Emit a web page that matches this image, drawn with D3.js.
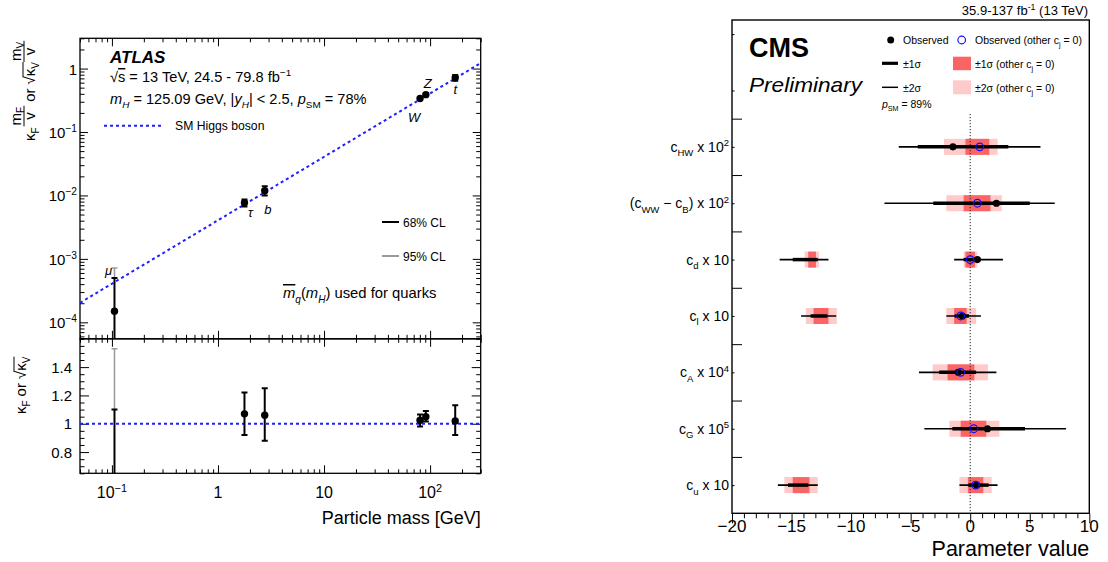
<!DOCTYPE html>
<html>
<head>
<meta charset="utf-8">
<script src="https://cdn.jsdelivr.net/npm/d3@7"></script>
<style>
  body { margin: 0; background: #fff; }
  text { font-family: 'Liberation Sans', Arial, Helvetica, sans-serif; fill: #000; }
</style>
</head>
<body>
<div id="chart"></div>
<script>
// ---------- left panel data (ATLAS) ----------
var particles   = ["μ", "τ", "b", "W", "Z", "t"];
var masses      = [0.1057, 1.777, 2.76, 80.4, 91.19, 172.5];
// reduced coupling (top panel)
var coupVal     = [1.5e-4, 7.7e-3, 1.19e-2, 0.337, 0.388, 0.715];
var coupLo68    = [1e-6, 6.7e-3, 1.0e-2, 0.325, 0.372, 0.645];
var coupHi68    = [5.0e-4, 8.6e-3, 1.4e-2, 0.350, 0.405, 0.790];
var coupHi95    = [7.2e-4, null, null, null, null, null];
// kappa (bottom panel)
var kapVal      = [0.35, 1.07, 1.06, 1.025, 1.05, 1.02];
var kapLo68     = [0.0, 0.92, 0.88, 0.98, 1.015, 0.92];
var kapHi68     = [1.10, 1.22, 1.25, 1.065, 1.09, 1.13];
var kapHi95     = [1.53, null, null, null, null, null];
var smMass      = [0.05, 300];
var smCoupling  = [2.03e-4, 1.22];
var smKappa     = [1, 1];
var massTicks   = [0.1, 1, 10, 100];
var massLabels  = [["10", "−1"], ["1", ""], ["10", ""], ["10", "2"]];
var coupTicks   = [1, 0.1, 0.01, 0.001, 0.0001];
var coupLabels  = [["1", ""], ["10", "−1"], ["10", "−2"], ["10", "−3"], ["10", "−4"]];
var kapTicks    = [0.8, 1.0, 1.2, 1.4];
var kapLabels   = ["0.8", "1", "1.2", "1.4"];

// ---------- right panel data (CMS) ----------
var paramLabels = [
  [["c", ""], ["HW", "sub"], [" x 10", ""], ["2", "sup"]],
  [["(c", ""], ["WW", "sub"], [" − c", ""], ["B", "sub"], [") x 10", ""], ["2", "sup"]],
  [["c", ""], ["d", "sub"], [" x 10", ""]],
  [["c", ""], ["l", "sub"], [" x 10", ""]],
  [["c", ""], ["A", "sub"], [" x 10", ""], ["4", "sup"]],
  [["c", ""], ["G", "sub"], [" x 10", ""], ["5", "sup"]],
  [["c", ""], ["u", "sub"], [" x 10", ""]]
];
var obsCentral   = [-1.45, 2.2, 0.6, -0.65, -1.0, 1.45, 0.55];
var obs1sigma    = [[[-4.4, 3.2]], [[-3.1, 5.0]], [[-14.9, -12.8], [-0.55, 0.85]], [[-13.4, -12.0], [-1.3, -0.1]],
                    [[-2.6, 0.5]], [[-1.5, 4.6]], [[-15.3, -13.6], [-0.15, 1.55]]];
var obs2sigma    = [[[-6.0, 5.9]], [[-7.2, 7.1]], [[-16.0, -11.9], [-1.35, 2.75]], [[-14.2, -11.25], [-2.0, 0.9]],
                    [[-4.3, 2.2]], [[-3.85, 8.05]], [[-16.15, -12.8], [-0.9, 2.3]]];
var otherCentral = [0.8, 0.6, 0.0, -0.8, -0.8, 0.3, 0.45];
var other1sigma  = [[[-0.4, 1.6]], [[-0.55, 1.7]], [[-13.6, -12.95], [-0.4, 0.4]], [[-13.15, -11.9], [-1.35, -0.3]],
                    [[-1.9, 0.35]], [[-0.8, 1.35]], [[-14.9, -13.5], [-0.2, 1.1]]];
var other2sigma  = [[[-2.2, 2.3]], [[-2.0, 2.65]], [[-13.9, -12.7], [-0.55, 0.6]], [[-13.8, -11.2], [-2.0, 0.5]],
                    [[-3.15, 1.5]], [[-1.75, 2.45]], [[-15.6, -12.8], [-0.9, 1.8]]];
var paramTicks   = [-20, -15, -10, -5, 0, 5, 10];

var svg = d3.select("#chart").append("svg")
    .attr("width", 1108)
    .attr("height", 562);
svg.append("rect").attr("width", 1108).attr("height", 562).attr("fill", "#fff");

// text with sub/superscripts, italic, overline
function rich(g, x, y, segs, size, anchor) {
    var t = g.append("text")
        .attr("x", x).attr("y", y)
        .attr("font-size", size)
        .attr("text-anchor", anchor || "start");
    var shift = 0;
    segs.forEach(function(s) {
        var style = s[1] || "";
        var target = 0;
        if (style.indexOf("sub") >= 0) target = size * 0.32;
        if (style.indexOf("sup") >= 0) target = -size * 0.4;
        var ts = t.append("tspan").attr("dy", target - shift).text(s[0]);
        if (target !== 0) ts.attr("font-size", size * 0.68);
        if (style.indexOf("it") >= 0) ts.attr("font-style", "italic");
        if (style.indexOf("ovl") >= 0) ts.style("text-decoration", "overline");
        shift = target;
    });
    return t;
}

function put(g, str, x, y, size, italic) {
    var t = g.append("text").attr("x", x).attr("y", y).attr("font-size", size).text(str);
    if (italic) t.attr("font-style", "italic");
    return t.node().getComputedTextLength();
}

function logMinors(lo, hi) {
    var out = [];
    for (var e = -6; e <= 3; e++) {
        for (var k = 2; k <= 9; k++) {
            var v = k * Math.pow(10, e);
            if (v >= lo && v <= hi) out.push(v);
        }
    }
    return out;
}

function ticks(g, axisFn, scale, vals, size, tx, ty) {
    g.append("g")
        .attr("transform", "translate(" + tx + "," + ty + ")")
        .call(axisFn(scale).tickValues(vals).tickSize(size).tickFormat(""))
        .call(function(a) {
            a.select(".domain").remove();
            a.selectAll("line").attr("stroke", "#000").attr("stroke-width", 1);
        });
}

// ================= LEFT PANEL =================
var L = { x0: 80, x1: 480.7, yT0: 38.3, yT1: 338.8, yB1: 473.3 };
var x = d3.scaleLog().domain([0.05, 300]).range([L.x0, L.x1]);
var yTop = d3.scaleLog().domain([5.5e-5, 3]).range([L.yT1, L.yT0]);
var yBot = d3.scaleLinear().domain([0.65, 1.6]).range([L.yB1, L.yT1]);

var left = svg.append("g");
var defs = svg.append("defs");
defs.append("clipPath").attr("id", "clipTop").append("rect")
    .attr("x", L.x0).attr("y", L.yT0).attr("width", L.x1 - L.x0).attr("height", L.yT1 - L.yT0);
defs.append("clipPath").attr("id", "clipBot").append("rect")
    .attr("x", L.x0).attr("y", L.yT1).attr("width", L.x1 - L.x0).attr("height", L.yB1 - L.yT1);

var xMinors = logMinors(0.05, 300);
var topMinors = logMinors(5.5e-5, 3);
var kapMinors = d3.range(0.65, 1.6001, 0.05).map(function(v) { return +v.toFixed(2); })
    .filter(function(v) { return kapTicks.indexOf(v) < 0; });

// ticks (inward, all four sides)
ticks(left, d3.axisLeft, yTop, coupTicks, -8, L.x0, 0);
ticks(left, d3.axisLeft, yTop, topMinors, -4.5, L.x0, 0);
ticks(left, d3.axisRight, yTop, coupTicks, -8, L.x1, 0);
ticks(left, d3.axisRight, yTop, topMinors, -4.5, L.x1, 0);
ticks(left, d3.axisTop, x, massTicks, -8, 0, L.yT0);
ticks(left, d3.axisTop, x, xMinors, -4, 0, L.yT0);
ticks(left, d3.axisBottom, x, massTicks, -8, 0, L.yT1);
ticks(left, d3.axisBottom, x, xMinors, -4, 0, L.yT1);
ticks(left, d3.axisTop, x, massTicks, -8, 0, L.yT1);
ticks(left, d3.axisTop, x, xMinors, -4, 0, L.yT1);
ticks(left, d3.axisBottom, x, massTicks, -8, 0, L.yB1);
ticks(left, d3.axisBottom, x, xMinors, -4, 0, L.yB1);
ticks(left, d3.axisLeft, yBot, kapTicks, -9, L.x0, 0);
ticks(left, d3.axisLeft, yBot, kapMinors, -4.5, L.x0, 0);
ticks(left, d3.axisRight, yBot, kapTicks, -9, L.x1, 0);
ticks(left, d3.axisRight, yBot, kapMinors, -4.5, L.x1, 0);

left.append("rect").attr("x", L.x0).attr("y", L.yT0)
    .attr("width", L.x1 - L.x0).attr("height", L.yT1 - L.yT0)
    .attr("fill", "none").attr("stroke", "#000").attr("stroke-width", 1.3);
left.append("rect").attr("x", L.x0).attr("y", L.yT1)
    .attr("width", L.x1 - L.x0).attr("height", L.yB1 - L.yT1)
    .attr("fill", "none").attr("stroke", "#000").attr("stroke-width", 1.3);

// tick labels
massTicks.forEach(function(v, i) {
    rich(left, x(v), 498, [[massLabels[i][0], ""], [massLabels[i][1], "sup"]], 16, "middle");
});
coupTicks.forEach(function(v, i) {
    rich(left, 77, yTop(v) + 6, [[coupLabels[i][0], ""], [coupLabels[i][1], "sup"]], 15, "end");
});
kapTicks.forEach(function(v, i) {
    left.append("text").attr("x", 72).attr("y", yBot(v) + 5.5)
        .attr("font-size", 15).attr("text-anchor", "end").text(kapLabels[i]);
});
left.append("text").attr("x", L.x1).attr("y", 524)
    .attr("font-size", 18).attr("text-anchor", "end").text("Particle mass [GeV]");

// SM line
var smLine = d3.line().x(function(d) { return x(d[0]); });
left.append("path").attr("clip-path", "url(#clipTop)")
    .attr("d", smLine.y(function(d) { return yTop(d[1]); })(d3.zip(smMass, smCoupling)))
    .attr("fill", "none").attr("stroke", "#1f1fff").attr("stroke-width", 2).attr("stroke-dasharray", "3,3");
left.append("path").attr("clip-path", "url(#clipBot)")
    .attr("d", smLine.y(function(d) { return yBot(d[1]); })(d3.zip(smMass, smKappa)))
    .attr("fill", "none").attr("stroke", "#1f1fff").attr("stroke-width", 2).attr("stroke-dasharray", "3,3");

function errBars(g, yS, val, lo, hi, hi95, clip) {
    var pg = g.append("g").attr("clip-path", clip);
    masses.forEach(function(m, i) {
        var cx = x(m);
        if (hi95[i] != null) {
            pg.append("line").attr("x1", cx).attr("x2", cx)
                .attr("y1", yS(hi[i])).attr("y2", yS(hi95[i]))
                .attr("stroke", "#9a9a9a").attr("stroke-width", 1.5);
            pg.append("line").attr("x1", cx - 3).attr("x2", cx + 3)
                .attr("y1", yS(hi95[i])).attr("y2", yS(hi95[i]))
                .attr("stroke", "#9a9a9a").attr("stroke-width", 1.5);
        }
        pg.append("line").attr("x1", cx).attr("x2", cx)
            .attr("y1", Math.min(yS(lo[i]), 1000)).attr("y2", yS(hi[i]))
            .attr("stroke", "#000").attr("stroke-width", 2);
        [lo[i], hi[i]].forEach(function(v) {
            pg.append("line").attr("x1", cx - 3).attr("x2", cx + 3)
                .attr("y1", yS(v)).attr("y2", yS(v))
                .attr("stroke", "#000").attr("stroke-width", 2);
        });
        pg.append("circle").attr("cx", cx).attr("cy", yS(val[i])).attr("r", 3.7).attr("fill", "#000");
    });
}
errBars(left, yTop, coupVal, coupLo68, coupHi68, coupHi95, "url(#clipTop)");
errBars(left, yBot, kapVal, kapLo68, kapHi68, kapHi95, "url(#clipBot)");

// particle labels
var labDx = [-6, 6, 3, -6, 2, 0];
var labDy = [-3, 14, 23, 23, -7, 16];
particles.forEach(function(p, i) {
    var yy = i === 0 ? yTop(coupHi68[i]) : yTop(coupVal[i]);
    left.append("text").attr("x", x(masses[i]) + labDx[i]).attr("y", yy + labDy[i])
        .attr("font-size", 13).attr("font-style", "italic").attr("text-anchor", "middle").text(p);
});

// texts
left.append("text").attr("x", 110).attr("y", 63).attr("font-size", 17)
    .attr("font-weight", "bold").attr("font-style", "italic").text("ATLAS");
rich(left, 110, 82, [["√", ""], ["s", "ovl"], [" = 13 TeV, 24.5 - 79.8 fb", ""], ["−1", "sup"]], 14.6);
rich(left, 110, 103.5, [["m", "it"], ["H", "sub it"], [" = 125.09 GeV, |", ""], ["y", "it"], ["H", "sub it"],
    ["| < 2.5, ", ""], ["p", "it"], ["SM", "sub"], [" = 78%", ""]], 14.6);
left.append("line").attr("x1", 104).attr("x2", 162).attr("y1", 125.7).attr("y2", 125.7)
    .attr("stroke", "#1f1fff").attr("stroke-width", 2).attr("stroke-dasharray", "3,3");
left.append("text").attr("x", 175).attr("y", 130).attr("font-size", 12.2).text("SM Higgs boson");
left.append("line").attr("x1", 382).attr("x2", 399).attr("y1", 222).attr("y2", 222)
    .attr("stroke", "#000").attr("stroke-width", 2);
left.append("text").attr("x", 403).attr("y", 226.5).attr("font-size", 12).text("68% CL");
left.append("line").attr("x1", 382).attr("x2", 399).attr("y1", 256).attr("y2", 256)
    .attr("stroke", "#9a9a9a").attr("stroke-width", 2);
left.append("text").attr("x", 403).attr("y", 260.5).attr("font-size", 12).text("95% CL");
rich(left, 283, 298, [["m", "it ovl"], ["q", "sub it"], ["(", ""], ["m", "it"], ["H", "sub it"], [") used for quarks", ""]], 14.8);

// y axis titles (rotated)
var yl = left.append("g").attr("transform", "translate(35,141) rotate(-90)");
var cx = 0, w, wm, wf, wv, fw;
function fraction(sub) {
    wm = put(yl, "m", -100, -100, 15); wf = put(yl, sub, -100, -100, 10); wv = put(yl, "v", -100, -100, 15);
    fw = Math.max(wm + wf, wv) + 2;
    put(yl, "m", cx + (fw - wm - wf) / 2, -14, 15);
    put(yl, sub, cx + (fw - wm - wf) / 2 + wm, -11.5, 10);
    put(yl, "v", cx + (fw - wv) / 2, 0, 15);
    yl.append("line").attr("x1", cx).attr("x2", cx + fw).attr("y1", -11).attr("y2", -11)
        .attr("stroke", "#000").attr("stroke-width", 1);
    cx += fw;
}
w = put(yl, "κ", cx, 0, 15); cx += w;
w = put(yl, "F", cx, 4, 10); cx += w + 1;
fraction("F"); cx += 4;
w = put(yl, "or", cx, 0, 15); cx += w + 4;
w = put(yl, "√", cx, 0, 15); cx += w;
var ovStart = cx - 1;
w = put(yl, "κ", cx, 0, 15); cx += w;
w = put(yl, "V", cx, 4, 10); cx += w;
yl.append("line").attr("x1", ovStart).attr("x2", cx).attr("y1", -12).attr("y2", -12)
    .attr("stroke", "#000").attr("stroke-width", 1);
fraction("V");
yl.selectAll("text").filter(function() { return +d3.select(this).attr("x") === -100; }).remove();

var yl2 = left.append("g").attr("transform", "translate(26,414) rotate(-90)");
cx = 0;
w = put(yl2, "κ", cx, 0, 15); cx += w;
w = put(yl2, "F", cx, 4, 10); cx += w + 4;
w = put(yl2, "or", cx, 0, 15); cx += w + 4;
w = put(yl2, "√", cx, 0, 15); cx += w;
ovStart = cx - 1;
w = put(yl2, "κ", cx, 0, 15); cx += w;
w = put(yl2, "V", cx, 4, 10); cx += w;
yl2.append("line").attr("x1", ovStart).attr("x2", cx).attr("y1", -12).attr("y2", -12)
    .attr("stroke", "#000").attr("stroke-width", 1);

// ================= RIGHT PANEL =================
var R = { x0: 732, x1: 1089.3, y0: 20, y1: 513.3 };
var xR = d3.scaleLinear().domain([-20, 10]).range([R.x0, R.x1]);
var yR = d3.scaleLinear().domain([0, 8.75]).range([R.y1, R.y0]);
var right = svg.append("g");
var rowY = function(i) { return yR(paramLabels.length - 0.5 - i); };
var boxH = 16;

// boxes
other2sigma.forEach(function(iv, i) {
    iv.forEach(function(r) {
        right.append("rect").attr("x", xR(r[0])).attr("y", rowY(i) - boxH / 2)
            .attr("width", xR(r[1]) - xR(r[0])).attr("height", boxH).attr("fill", "#ffcaca");
    });
});
other1sigma.forEach(function(iv, i) {
    iv.forEach(function(r) {
        right.append("rect").attr("x", xR(r[0])).attr("y", rowY(i) - boxH / 2)
            .attr("width", xR(r[1]) - xR(r[0])).attr("height", boxH).attr("fill", "#fb6464");
    });
});

// zero line
right.append("line").attr("x1", xR(0)).attr("x2", xR(0)).attr("y1", 114).attr("y2", R.y1)
    .attr("stroke", "#222").attr("stroke-width", 1).attr("stroke-dasharray", "1.2,1.8");

obs2sigma.forEach(function(iv, i) {
    iv.forEach(function(r) {
        right.append("line").attr("x1", xR(r[0])).attr("x2", xR(r[1]))
            .attr("y1", rowY(i)).attr("y2", rowY(i)).attr("stroke", "#000").attr("stroke-width", 1.6);
    });
});
obs1sigma.forEach(function(iv, i) {
    iv.forEach(function(r) {
        right.append("line").attr("x1", xR(r[0])).attr("x2", xR(r[1]))
            .attr("y1", rowY(i)).attr("y2", rowY(i)).attr("stroke", "#000").attr("stroke-width", 3.5);
    });
});
obsCentral.forEach(function(v, i) {
    right.append("circle").attr("cx", xR(v)).attr("cy", rowY(i)).attr("r", 3.6).attr("fill", "#000");
});
otherCentral.forEach(function(v, i) {
    right.append("circle").attr("cx", xR(v)).attr("cy", rowY(i)).attr("r", 3.8)
        .attr("fill", "none").attr("stroke", "#1010ff").attr("stroke-width", 1.2);
});

// axes
var xMinR = d3.range(-20, 10.5, 1).filter(function(v) { return v % 5 !== 0; });
ticks(right, d3.axisTop, xR, paramTicks, -10, 0, R.y1);
ticks(right, d3.axisTop, xR, xMinR, -5, 0, R.y1);
ticks(right, d3.axisLeft, yR, d3.range(1, 8), -10, R.x0, 0);
ticks(right, d3.axisLeft, yR, d3.range(0.5, 8.6, 1), -2.5, R.x0, 0);
right.append("rect").attr("x", R.x0).attr("y", R.y0)
    .attr("width", R.x1 - R.x0).attr("height", R.y1 - R.y0)
    .attr("fill", "none").attr("stroke", "#000").attr("stroke-width", 1.4);

paramTicks.forEach(function(v) {
    right.append("text").attr("x", xR(v)).attr("y", 532).attr("font-size", 17)
        .attr("text-anchor", "middle").text(v < 0 ? "−" + Math.abs(v) : String(v));
});
right.append("text").attr("x", R.x1).attr("y", 556).attr("font-size", 21.5)
    .attr("text-anchor", "end").text("Parameter value");
paramLabels.forEach(function(segs, i) {
    rich(right, 729, rowY(i) + 5, segs, 14, "end");
});

// header & legend
rich(right, 1088, 15, [["35.9-137 fb", ""], ["-1", "sup"], [" (13 TeV)", ""]], 13, "end");
right.append("text").attr("x", 749).attr("y", 57).attr("font-size", 27).attr("font-weight", "bold").text("CMS");
right.append("text").attr("x", 749).attr("y", 91.5).attr("font-size", 21).attr("font-style", "italic")
    .attr("textLength", 113).attr("lengthAdjust", "spacingAndGlyphs").text("Preliminary");

right.append("circle").attr("cx", 890.7).attr("cy", 40).attr("r", 3.5).attr("fill", "#000");
right.append("text").attr("x", 903).attr("y", 44).attr("font-size", 10.5).text("Observed");
right.append("circle").attr("cx", 961.7).attr("cy", 40).attr("r", 3.8)
    .attr("fill", "none").attr("stroke", "#1010ff").attr("stroke-width", 1.2);
rich(right, 975, 44, [["Observed (other c", ""], ["j", "sub"], [" = 0)", ""]], 10.5);
right.append("line").attr("x1", 882).attr("x2", 898).attr("y1", 63.3).attr("y2", 63.3)
    .attr("stroke", "#000").attr("stroke-width", 3.2);
right.append("text").attr("x", 903).attr("y", 67.5).attr("font-size", 10.5).text("±1σ");
right.append("line").attr("x1", 882).attr("x2", 898).attr("y1", 87.3).attr("y2", 87.3)
    .attr("stroke", "#000").attr("stroke-width", 1.5);
right.append("text").attr("x", 903).attr("y", 91.5).attr("font-size", 10.5).text("±2σ");
right.append("rect").attr("x", 953).attr("y", 56.7).attr("width", 18).attr("height", 13.5).attr("fill", "#fb6464");
rich(right, 975, 67.5, [["±1σ (other c", ""], ["j", "sub"], [" = 0)", ""]], 10.5);
right.append("rect").attr("x", 953).attr("y", 80.3).attr("width", 18).attr("height", 14).attr("fill", "#ffcaca");
rich(right, 975, 91.5, [["±2σ (other c", ""], ["j", "sub"], [" = 0)", ""]], 10.5);
rich(right, 882, 108, [["p", "it"], ["SM", "sub"], [" = 89%", ""]], 10.5);
</script>
</body>
</html>
